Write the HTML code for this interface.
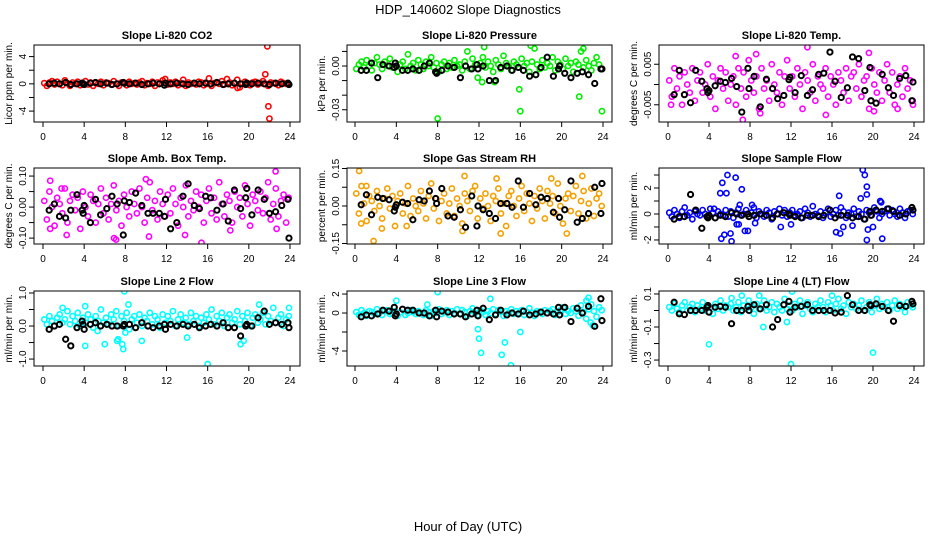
<!DOCTYPE html>
<html><head><meta charset="utf-8"><style>
html,body{margin:0;padding:0;background:#fff}
svg{display:block;font-family:"Liberation Sans",Arial,sans-serif}
</style></head><body>
<svg id="chart" width="936" height="540" viewBox="0 0 936 540" xmlns="http://www.w3.org/2000/svg">
<text x="468" y="14" text-anchor="middle" font-size="13">HDP_140602  Slope Diagnostics</text>
<text x="468" y="531" text-anchor="middle" font-size="13">Hour of Day (UTC)</text>
</svg>
<script>
const hours=[0.125,0.375,0.625,0.875,1.125,1.375,1.625,1.875,2.125,2.375,2.625,2.875,3.125,3.375,3.625,3.875,4.125,4.375,4.625,4.875,5.125,5.375,5.625,5.875,6.125,6.375,6.625,6.875,7.125,7.375,7.625,7.875,8.125,8.375,8.625,8.875,9.125,9.375,9.625,9.875,10.125,10.375,10.625,10.875,11.125,11.375,11.625,11.875,12.125,12.375,12.625,12.875,13.125,13.375,13.625,13.875,14.125,14.375,14.625,14.875,15.125,15.375,15.625,15.875,16.125,16.375,16.625,16.875,17.125,17.375,17.625,17.875,18.125,18.375,18.625,18.875,19.125,19.375,19.625,19.875,20.125,20.375,20.625,20.875,21.125,21.375,21.625,21.875,22.125,22.375,22.625,22.875,23.125,23.375,23.625,23.875];
const blackHours=[0.6,1.1,1.6,2.2,2.7,3.3,3.8,3.9,4.0,4.6,5.1,5.6,6.2,6.7,7.2,7.8,7.9,8.4,9.0,9.6,10.2,10.7,11.3,11.8,11.9,12.4,13.0,13.6,14.1,14.7,15.2,15.8,16.3,16.9,17.5,18.0,18.6,19.2,19.7,19.8,20.3,20.9,21.5,22.0,22.6,23.2,23.8,23.9];
const xTicks=[0,4,8,12,16,20,24];

const co2=[0.1,-0.3,0.2,0.4,-0.1,0.3,0.0,-0.2,0.5,0.1,-0.3,0.2,0.0,0.3,-0.2,0.1,0.4,-0.1,0.2,-0.3,0.1,0.0,0.3,-0.2,0.2,0.1,-0.1,0.4,0.0,-0.3,0.2,0.1,-0.2,0.3,0.0,0.1,-0.1,0.2,0.4,-0.2,0.1,0.0,0.3,-0.3,0.2,0.1,0.5,0.7,-0.1,0.2,0.0,0.3,-0.2,0.1,0.6,-0.3,0.2,0.0,0.1,-0.1,0.3,0.2,-0.2,0.0,0.8,-0.3,0.1,0.2,0.0,0.4,-0.1,0.7,0.2,-0.2,0.1,0.6,-0.5,0.0,0.3,0.1,-0.2,0.2,0.3,-0.1,0.1,0.4,0.0,-0.3,0.2,0.1,0.0,-0.2,0.3,0.1,0.0,-0.1];
const co2OutX=[21.6,21.8,21.9,22.0,18.9];
const co2OutY=[1.4,5.5,-3.3,-5.1,-0.6];
const co2Black=[0.0,0.1,0.0,0.2,-0.1,0.0,0.1,0.0,-0.1,0.1,0.2,0.0,0.1,-0.1,0.0,0.2,0.1,0.0,0.1,-0.1,0.0,0.1,0.0,-0.2,0.1,0.0,0.1,0.0,-0.1,0.1,0.0,0.1,0.0,0.2,-0.1,0.0,0.1,0.0,-0.1,0.1,0.0,0.1,0.0,-0.1,0.1,0.0,0.1,-0.1];

const pres=[-0.002,0.001,0.003,-0.001,0.004,0.000,-0.003,0.002,0.006,0.001,-0.002,0.003,0.000,0.005,-0.001,0.002,-0.004,0.001,0.003,-0.002,0.008,0.000,0.002,-0.003,0.004,0.001,-0.002,0.003,0.000,0.006,-0.001,0.002,-0.004,0.001,0.003,-0.002,0.002,-0.001,0.004,0.000,0.001,-0.003,0.003,0.010,-0.002,0.005,0.001,-0.008,0.002,0.006,-0.001,0.003,0.000,-0.004,0.004,0.001,-0.002,0.007,0.002,0.000,-0.003,0.003,0.001,-0.001,0.005,0.000,0.002,-0.004,0.003,0.012,0.001,-0.002,0.004,-0.001,0.002,0.000,0.006,-0.003,0.003,0.001,-0.002,0.005,0.000,0.002,-0.004,0.003,0.001,0.010,-0.001,0.004,0.000,-0.003,0.002,0.006,0.001,-0.002];
const presOutX=[8.0,15.9,16.0,21.7,23.9,12.5,17.0,22.1,13.5,12.3];
const presOutY=[-0.036,-0.016,-0.031,-0.021,-0.031,0.013,0.014,0.012,-0.011,-0.011];
const presBlack=[-0.003,-0.003,0.002,-0.008,0.001,0.000,-0.001,0.002,0.000,-0.003,-0.003,-0.002,-0.003,0.000,0.002,-0.004,-0.005,-0.003,0.000,-0.001,-0.008,0.000,-0.002,0.001,-0.002,0.000,-0.010,-0.010,-0.001,0.000,-0.003,-0.001,-0.003,-0.007,-0.006,-0.001,0.006,-0.007,-0.002,0.000,-0.005,-0.008,-0.005,-0.004,-0.006,-0.012,-0.002,-0.002];

const temp=[0.001,-0.003,0.004,-0.001,0.002,-0.005,0.003,0.000,-0.002,0.004,-0.004,0.001,0.003,-0.002,0.000,0.005,-0.003,0.002,-0.006,0.001,0.004,-0.001,0.003,-0.004,0.000,0.002,-0.005,0.004,-0.001,0.003,-0.003,0.006,0.001,-0.002,0.002,-0.006,0.004,-0.001,0.001,-0.004,0.005,0.000,-0.002,0.003,-0.005,0.002,0.006,-0.001,0.002,-0.003,0.004,0.000,-0.006,0.003,0.001,-0.002,0.005,-0.004,0.002,0.000,-0.001,0.004,-0.003,0.002,0.000,-0.005,0.003,0.001,-0.002,0.004,-0.004,0.002,0.003,-0.001,0.005,-0.003,0.001,0.002,-0.006,0.004,0.000,-0.002,0.003,-0.004,0.001,0.005,-0.002,0.003,-0.005,0.000,0.002,-0.003,0.004,-0.001,0.001,-0.004];
const tempOutX=[7.3,8.6,13.6,15.4,9.0,20.1,6.6,0.3,19.6,22.4,23.9];
const tempOutY=[-0.0087,0.0075,0.0092,-0.0075,-0.0071,-0.0066,0.007,-0.005,0.0078,-0.006,-0.005];
const tempBlack=[-0.0025,0.0035,-0.0025,-0.0045,0.0035,0.0008,-0.001,-0.002,-0.0015,-0.0003,0.0008,0.0005,0.0015,-0.0005,-0.0068,0.004,-0.001,0.002,-0.0055,0.0013,-0.001,-0.0035,-0.0027,0.0012,0.0018,-0.002,0.0022,-0.0027,-0.0013,0.0025,0.0028,0.008,0.0008,-0.0032,-0.0008,0.0068,0.0064,-0.0015,0.0042,-0.004,-0.0046,0.0025,-0.0008,-0.0027,0.0015,0.0022,-0.004,0.0006];

const amb=[0.02,-0.04,0.05,0.00,-0.06,0.03,0.01,-0.02,0.06,-0.05,0.02,0.04,-0.01,0.03,-0.07,0.05,0.00,-0.03,0.04,0.02,-0.05,0.01,0.06,-0.02,0.03,-0.04,0.01,0.07,-0.01,0.02,-0.06,0.04,0.00,-0.03,0.05,0.01,-0.02,0.06,0.00,-0.05,0.03,0.08,-0.01,0.02,-0.04,0.05,0.01,-0.03,0.04,-0.02,0.06,0.01,-0.06,0.03,0.00,0.07,-0.03,0.02,-0.01,0.05,0.00,0.04,-0.05,0.02,0.06,-0.02,0.03,-0.04,0.08,0.01,-0.03,0.04,0.02,-0.05,0.05,0.00,0.03,-0.03,0.07,0.01,-0.06,0.04,0.02,-0.01,0.05,-0.02,0.03,0.08,-0.04,0.01,0.06,-0.03,0.02,0.04,-0.05,0.03];
const ambOutX=[0.7,0.7,2.3,6.9,7.1,10.3,15.4,13.8,22.6,22.7,18.2,10.0,1.8];
const ambOutY=[0.085,-0.07,-0.09,-0.10,-0.105,-0.095,-0.115,-0.09,0.115,-0.07,-0.075,0.09,0.06];
const ambBlack=[-0.01,0.01,-0.03,-0.035,-0.01,0.04,-0.01,-0.02,0.005,-0.05,0.025,-0.025,-0.005,0.035,0.01,-0.09,0.02,0.015,0.045,0.005,-0.02,-0.02,-0.02,-0.03,0.025,-0.07,-0.05,0.035,0.075,0.005,-0.005,0.035,0.03,-0.01,0.01,-0.045,0.055,-0.005,0.03,0.06,-0.025,0.055,0.025,-0.02,-0.015,0.005,0.025,-0.1];

const rh=[0.05,-0.03,0.08,0.01,-0.06,0.04,0.02,-0.02,0.06,0.00,-0.05,0.03,0.07,-0.01,0.04,-0.08,0.02,0.05,-0.03,0.01,0.08,-0.04,0.03,0.00,-0.02,0.06,0.01,-0.05,0.04,0.09,-0.01,0.03,-0.06,0.02,0.05,-0.03,0.01,0.07,-0.04,0.03,0.00,-0.07,0.05,0.02,-0.02,0.06,0.08,-0.05,0.03,-0.01,0.05,0.00,-0.06,0.04,0.02,0.07,-0.03,0.01,-0.08,0.04,0.06,0.00,-0.04,0.03,0.08,-0.02,0.05,0.01,-0.06,0.04,-0.01,0.07,0.02,-0.05,0.06,0.01,0.04,-0.03,0.09,0.00,-0.07,0.03,0.05,-0.02,0.04,0.08,-0.03,0.02,0.06,-0.05,0.01,0.07,-0.04,0.03,0.05,0.00];
const rhOutX=[0.4,1.8,2.6,5.0,10.6,10.4,13.7,14.1,19.0,20.5,22.0,1.1,0.6];
const rhOutY=[0.14,-0.14,-0.09,-0.08,0.12,-0.10,0.11,-0.11,0.11,-0.11,0.12,0.08,-0.07];
const rhBlack=[0.005,0.045,-0.035,0.035,0.03,0.025,-0.02,-0.005,0.005,0.015,0.01,-0.055,0.025,0.02,0.06,0.03,0.01,0.07,-0.04,-0.045,-0.015,-0.085,0.04,-0.08,0.0,-0.015,-0.03,-0.05,0.01,0.01,-0.005,0.1,-0.005,0.05,0.005,0.035,0.03,-0.025,0.03,-0.045,-0.015,0.1,-0.065,-0.05,-0.03,0.075,-0.03,0.09];

const flow=[0.1,-0.2,0.3,0.0,-0.3,0.2,0.5,-0.1,0.1,-0.4,0.2,0.0,-0.1,0.3,0.0,-0.2,0.4,0.1,-0.3,0.2,0.0,-0.1,0.3,-0.2,0.2,-0.3,0.1,0.4,-0.1,0.0,0.3,-0.2,0.1,0.5,-0.3,0.2,0.0,-0.2,0.3,0.1,-0.4,0.2,0.0,0.4,-0.1,0.3,-0.2,0.1,0.3,-0.1,0.0,0.2,-0.3,0.4,0.1,-0.2,0.6,0.0,-0.1,0.2,-0.3,0.1,0.4,-0.2,0.0,0.3,-0.1,0.5,0.2,-0.3,0.1,0.0,0.4,-0.2,0.2,0.0,-0.4,0.3,0.1,-0.1,0.5,0.2,-0.3,0.0,0.2,0.4,-0.1,0.3,0.0,-0.2,0.4,0.1,-0.3,0.2,0.3,0.0];
const flowOutX=[5.3,5.8,6.6,7.2,5.1,5.7,5.2,5.5,6.1,6.2,6.7,7.5,7.8,16.7,16.4,16.8,17.1,18.0,18.8,19.0,19.2,19.4,19.4,19.5,19.4,20.0,20.7,20.9,20.8,11.0,12.0,7.0,8.2,8.5,4.5,6.9];
const flowOutY=[2.4,3.0,2.8,1.9,1.6,1.6,-1.9,-1.6,-1.5,-2.1,-0.8,-1.3,-1.3,1.4,-1.4,-1.5,-1.0,-0.9,1.2,3.4,3.0,2.1,1.5,-1.2,-2.0,-1.0,1.0,-1.9,0.9,-1.0,-0.8,0.7,0.7,-0.7,0.4,-0.8];
const flowBlack=[-0.4,-0.2,-0.2,1.5,0.3,-1.1,-0.2,-0.3,-0.1,-0.3,-0.1,-0.2,0.1,0.0,-0.1,0.0,-0.2,-0.1,0.0,-0.1,-0.3,0.0,0.1,0.0,-0.1,-0.2,-0.3,-0.1,-0.1,-0.2,-0.1,0.3,-0.3,-0.1,-0.1,-0.3,-0.2,-0.4,0.2,-0.1,0.3,0.2,0.4,0.2,-0.1,0.0,0.5,0.3];

const line2=[0.2,0.05,0.3,0.15,0.0,0.25,0.35,0.1,0.2,0.45,0.05,0.3,0.15,0.4,0.0,0.25,0.1,0.35,0.2,-0.05,0.3,0.15,0.5,0.1,0.25,0.05,0.35,0.2,0.45,0.0,0.3,0.15,0.4,-0.1,0.2,0.3,0.1,0.35,0.0,0.25,0.15,0.4,0.05,0.3,0.2,-0.05,0.35,0.1,0.3,0.15,0.45,0.0,0.2,0.35,0.1,0.25,0.05,0.4,0.15,0.3,0.0,0.25,0.1,0.35,0.2,0.5,0.05,0.3,0.15,0.4,0.0,0.25,0.35,0.1,0.2,0.45,0.05,0.3,0.15,0.4,0.0,0.25,0.35,0.1,0.2,0.4,0.05,0.3,0.15,0.55,0.1,0.25,0.35,0.0,0.2,0.3];
const line2OutX=[7.9,16.0,8.3,7.3,7.2,7.7,7.8,4.1,9.6,6.0,5.3,14.0,19.2,19.5,4.1,21.0,1.9,23.9,8.0];
const line2OutY=[1.05,-1.15,0.65,-0.4,-0.45,-0.55,-0.7,-0.6,-0.45,-0.55,-0.15,-0.35,-0.55,-0.45,0.6,0.65,0.55,0.55,-0.2];
const line2Black=[-0.1,0.0,0.05,-0.4,-0.6,-0.05,0.15,0.05,-0.1,0.05,0.1,0.0,0.05,0.0,0.0,0.0,0.05,0.05,-0.05,0.1,0.0,-0.05,0.0,0.05,-0.1,0.05,0.0,0.05,0.0,0.05,-0.05,0.0,0.05,0.0,0.1,-0.05,-0.05,-0.3,0.0,0.05,0.0,0.25,0.45,0.05,0.1,0.05,0.1,-0.05];

const line3=[0.1,-0.2,0.3,0.0,-0.3,0.2,0.1,-0.1,0.4,0.0,-0.2,0.2,0.3,-0.1,0.0,0.2,-0.3,0.1,0.4,-0.2,0.0,0.3,0.1,-0.1,0.2,0.0,-0.2,0.3,0.1,-0.3,0.2,0.0,0.4,-0.1,0.1,0.3,-0.2,0.2,0.0,0.4,-0.1,0.3,0.1,-0.3,0.2,0.5,0.0,-0.2,0.3,0.1,-0.2,0.2,0.0,0.4,-0.1,0.3,0.1,-0.3,0.2,0.0,0.4,-0.1,0.2,0.0,0.3,-0.2,0.1,0.5,0.0,-0.3,0.2,0.1,-0.1,0.3,0.0,0.2,0.4,-0.2,0.1,0.3,0.6,-0.1,0.2,0.0,0.5,0.2,-0.3,0.8,0.1,-0.6,0.4,0.9,0.2,-0.4,0.6,0.3];
const line3OutX=[8.0,11.9,12.0,12.2,14.2,14.5,15.1,16.0,13.1,22.6,22.4,23.0,22.8,4.0,7.0];
const line3OutY=[2.2,-1.7,-2.7,-4.2,-4.4,-3.1,-5.5,-2.0,1.5,1.6,1.3,-1.3,-1.0,1.3,0.9];
const line3Black=[-0.4,-0.2,-0.3,-0.1,0.3,0.2,0.6,-0.3,-0.1,0.4,0.3,0.3,0.0,0.0,-0.3,0.3,-0.4,0.2,0.1,-0.1,-0.1,-0.4,-0.1,0.3,-0.3,0.5,-0.7,-0.2,0.3,-0.2,0.0,-0.1,0.2,-0.2,-0.1,0.1,0.0,-0.1,0.6,-0.2,0.6,-0.9,0.5,0.0,0.7,-1.4,1.5,-0.8];

const line4=[0.02,0.00,0.04,0.01,-0.01,0.03,0.05,0.00,0.02,0.04,-0.01,0.03,0.01,0.05,0.00,0.03,0.02,-0.02,0.04,0.01,0.06,0.00,0.03,0.02,0.04,0.00,0.02,0.05,-0.01,0.03,0.01,0.06,0.02,-0.02,0.04,0.01,0.03,0.06,0.00,0.02,0.05,-0.01,0.04,0.02,0.00,0.07,0.01,0.03,0.00,0.04,0.02,0.06,-0.02,0.03,0.05,0.01,-0.01,0.04,0.02,0.06,0.02,-0.01,0.05,0.03,0.00,0.04,0.07,0.01,0.03,-0.02,0.05,0.02,0.04,0.01,0.03,0.06,0.00,0.02,0.05,-0.01,0.03,0.07,0.01,0.04,0.02,0.05,0.00,0.03,0.06,0.01,0.04,0.02,-0.01,0.05,0.03,0.02];
const line4OutX=[4.0,12.0,20.0,12.1,8.9,7.2,16.0,6.2,9.3,11.6];
const line4OutY=[-0.205,-0.325,-0.255,0.115,0.09,0.09,0.09,0.075,-0.1,-0.07];
const line4Black=[0.05,-0.02,-0.025,0.0,0.0,0.0,0.02,0.03,-0.01,0.02,0.025,0.02,-0.08,0.0,0.0,0.025,0.0,0.035,0.01,0.035,-0.1,-0.055,0.035,0.055,-0.01,0.02,0.025,0.035,0.0,0.0,0.0,0.0,-0.015,-0.01,0.09,0.035,0.0,0.0,0.035,0.03,0.04,0.025,0.0,-0.065,0.03,0.025,0.055,0.04];

const panels=[
 {name:'co2',title:'Slope Li-820 CO2',ylab:'Licor ppm per min.',col:'#ff0000',ys:co2,ox:co2OutX,oy:co2OutY,by:co2Black,dom:[-5.6,5.7],ticks:[-4,-2,0,2,4],lab:[-4,0,4],fmt:['-4','0','4']},
 {name:'pressure',title:'Slope Li-820 Pressure',ylab:'kPa per min.',col:'#00ee00',ys:pres,ox:presOutX,oy:presOutY,by:presBlack,dom:[-0.0384,0.0144],ticks:[-0.03,-0.02,-0.01,0,0.01],lab:[-0.03,0],fmt:['-0.03','0.00']},
 {name:'temp',title:'Slope Li-820 Temp.',ylab:'degrees C per min.',col:'#ff00ff',ys:temp,ox:tempOutX,oy:tempOutY,by:tempBlack,dom:[-0.00925,0.00975],ticks:[-0.005,0,0.005],lab:[-0.005,0.005],fmt:['-0.005','0.005']},
 {name:'amb-box-temp',title:'Slope Amb. Box Temp.',ylab:'degrees C per min.',col:'#ff00ff',ys:amb,ox:ambOutX,oy:ambOutY,by:ambBlack,dom:[-0.119,0.126],ticks:[-0.1,-0.05,0,0.05,0.1],lab:[-0.1,0,0.1],fmt:['-0.10','0.00','0.10']},
 {name:'gas-stream-rh',title:'Slope Gas Stream RH',ylab:'percent per min.',col:'#f5a000',ys:rh,ox:rhOutX,oy:rhOutY,by:rhBlack,dom:[-0.152,0.152],ticks:[-0.15,-0.075,0,0.075,0.15],lab:[-0.15,0,0.15],fmt:['-0.15','0.00','0.15']},
 {name:'sample-flow',title:'Slope Sample Flow',ylab:'ml/min per min.',col:'#0000ff',ys:flow,ox:flowOutX,oy:flowOutY,by:flowBlack,dom:[-2.31,3.54],ticks:[-2,-1,0,1,2,3],lab:[-2,0,2],fmt:['-2','0','2']},
 {name:'line2-flow',title:'Slope Line 2 Flow',ylab:'ml/min per min.',col:'#00ffff',ys:line2,ox:line2OutX,oy:line2OutY,by:line2Black,dom:[-1.21,1.06],ticks:[-1,-0.5,0,0.5,1],lab:[-1,0,1],fmt:['-1.0','0.0','1.0']},
 {name:'line3-flow',title:'Slope Line 3 Flow',ylab:'ml/min per min.',col:'#00ffff',ys:line3,ox:line3OutX,oy:line3OutY,by:line3Black,dom:[-5.58,2.32],ticks:[-4,-2,0,2],lab:[-4,0,2],fmt:['-4','0','2']},
 {name:'line4-flow',title:'Slope Line 4 (LT) Flow',ylab:'ml/min per min.',col:'#00ffff',ys:line4,ox:line4OutX,oy:line4OutY,by:line4Black,dom:[-0.336,0.118],ticks:[-0.3,-0.2,-0.1,0,0.1],lab:[-0.3,-0.1,0.1],fmt:['-0.3','-0.1','0.1']}
];
const colBox=[[34,300,43,290],[347,612,355,603],[659,924,668,914]];
const rowBox=[[45,122],[168,244],[291,366]];
const NS='http://www.w3.org/2000/svg';
const svg=document.getElementById('chart');
function mk(tag,attrs,parent){const e=document.createElementNS(NS,tag);for(const k in attrs)e.setAttribute(k,attrs[k]);(parent||svg).appendChild(e);return e;}
panels.forEach((p,i)=>{
 const c=colBox[i%3],r=rowBox[Math.floor(i/3)];
 const g=mk('g',{});
 
 
 const xs=v=>c[2]+(v/24)*(c[3]-c[2]);
 const ysc=v=>r[1]-(v-p.dom[0])/(p.dom[1]-p.dom[0])*(r[1]-r[0]);
 const clipId='clip'+i;
 const cp=mk('clipPath',{id:clipId},g);mk('rect',{x:c[0],y:r[0],width:c[1]-c[0],height:r[1]-r[0]},cp);
 const pts=mk('g',{'clip-path':'url(#'+clipId+')',fill:'none','stroke-width':1.6},g);
 
 
 const n=Math.min(hours.length,p.ys.length);
 for(let k=0;k<n;k++){const ci=mk('circle',{cx:xs(hours[k]),cy:ysc(p.ys[k]),r:2.6,stroke:p.col},pts);
  
  }
 for(let k=0;k<Math.min(p.ox.length,p.oy.length);k++){const ci=mk('circle',{cx:xs(p.ox[k]),cy:ysc(p.oy[k]),r:2.6,stroke:p.col},pts);
  
  }
 for(let k=0;k<Math.min(blackHours.length,p.by.length);k++){const ci=mk('circle',{cx:xs(blackHours[k]),cy:ysc(p.by[k]),r:2.6,stroke:'#000','stroke-width':2},pts);
  
  }
 const box=mk('rect',{x:c[0],y:r[0],width:c[1]-c[0],height:r[1]-r[0],fill:'none',stroke:'#000','stroke-width':1},g);
 
 
 const t=mk('text',{x:(c[0]+c[1])/2,y:r[0]-6,'text-anchor':'middle','font-size':11,'font-weight':'bold'},g);t.textContent=p.title;
 
 
 xTicks.forEach(v=>{mk('line',{x1:xs(v),x2:xs(v),y1:r[1],y2:r[1]+5,stroke:'#000'},g);
  const tl=mk('text',{x:xs(v),y:r[1]+18,'text-anchor':'middle','font-size':10},g);tl.textContent=v;
  
  });
 p.ticks.forEach(v=>{mk('line',{x1:c[0],x2:c[0]-5,y1:ysc(v),y2:ysc(v),stroke:'#000'},g);});
 p.lab.forEach((v,j)=>{const yy=ysc(v),xx=c[0]-8;const tl=mk('text',{x:xx,y:yy,'text-anchor':'middle','font-size':10,transform:`rotate(-90 ${xx} ${yy})`},g);tl.textContent=p.fmt[j];
  
  });
 const yl=c[0]-22,ym=(r[0]+r[1])/2;
 const lab=mk('text',{x:yl,y:ym,'text-anchor':'middle','font-size':10,transform:`rotate(-90 ${yl} ${ym})`},g);lab.textContent=p.ylab;
 
 
});
</script>
</body></html>
